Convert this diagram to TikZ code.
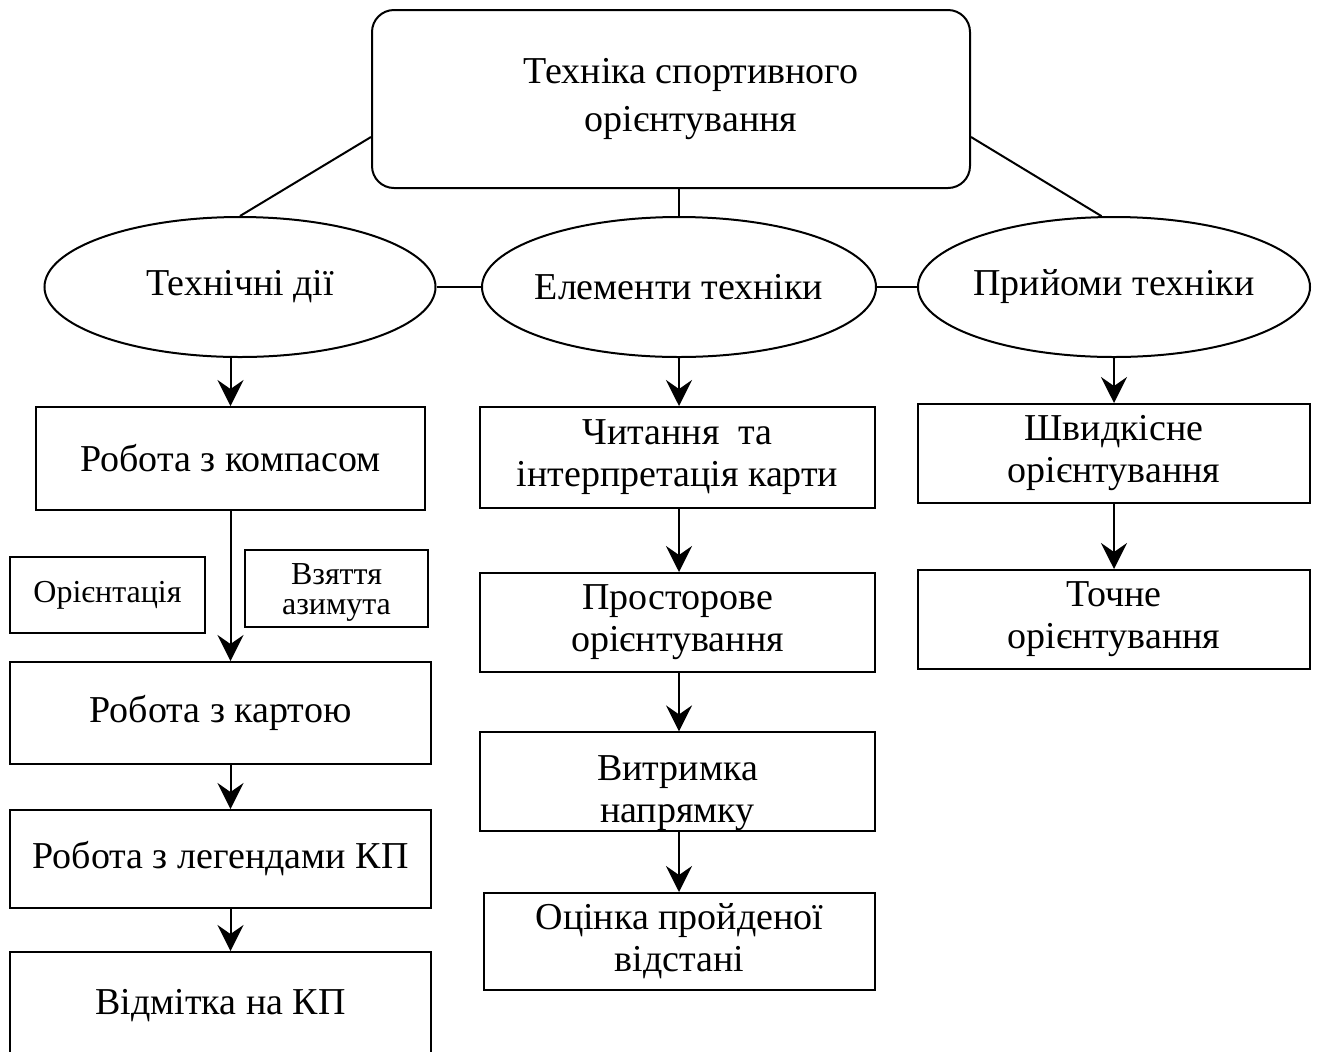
\documentclass[tikz,border=0pt]{standalone}
\usepackage{fontspec}
\setmainfont{Liberation Serif}
\usetikzlibrary{shapes.geometric,arrows.meta}

\tikzset{
  blok/.style={draw, line width=1pt, inner sep=0pt, align=center,
    font=\fontsize{19}{21}\selectfont},
  ovalblok/.style={blok, ellipse, minimum height=70pt},
  malyi/.style={draw, line width=1pt, inner sep=0pt, align=center,
    font=\fontsize{16}{15}\selectfont},
  zv/.style={line width=1pt},
  strilka/.style={zv, -{Stealth[length=13pt,width=13pt,inset=4.5pt]}},
}
% text of an oval takes no room, so the oval keeps its own size
\newcommand{\ovaltxt}[1]{\makebox[0pt]{#1}}

\begin{document}
\begin{tikzpicture}[x=0.5pt,y=-0.5pt]
\clip (0,0) rectangle (1317,1051);
\path[use as bounding box] (0,0) rectangle (1317,1051);
\fill[white] (0,0) rectangle (1317,1051);
% top and the three ovals
\node[blok, rounded corners=11pt, minimum width=299pt, minimum height=89pt,
  font=\fontsize{19}{24}\selectfont] (tekhnika) at (671,99)
  {\hspace*{20pt}Техніка спортивного\\\hspace*{20pt}орієнтування};
\node[ovalblok, minimum width=195.5pt] (dii) at (240,287) {\ovaltxt{Технічні дії}};
\node[ovalblok, minimum width=197pt] (elementy) at (679,287) {\ovaltxt{Елементи техніки}};
\node[ovalblok, minimum width=196pt] (pryiomy) at (1114,287) {\ovaltxt{Прийоми техніки}};
% left column
\node[blok, minimum width=194.5pt, minimum height=51.5pt] (kompas) at (230.5,458.5) {Робота з компасом};
\node[malyi, minimum width=97.5pt, minimum height=38pt] (orient) at (107.5,595) {Орієнтація};
\node[malyi, minimum width=91.5pt, minimum height=38.5pt] (azymut) at (336.5,588.5) {\rule{0pt}{14pt}Взяття\\азимута};
\node[blok, minimum width=210.5pt, minimum height=51pt] (karta) at (220.5,713) {Робота з картою};
\node[blok, minimum width=210.5pt, minimum height=49pt] (lehendy) at (220.5,859) {Робота з легендами КП};
\node[blok, minimum width=210.5pt, minimum height=54pt] (vidmitka) at (220.5,1006) {Відмітка на КП};
% middle column
\node[blok, minimum width=197.5pt, minimum height=50.5pt] (chytannia) at (677.5,457.5) {Читання\ \ та\\інтерпретація карти};
\node[blok, minimum width=197.5pt, minimum height=49.5pt] (prostir) at (677.5,622.5) {Просторове\\орієнтування};
\node[blok, minimum width=197.5pt, minimum height=48.5pt] (vytrymka) at (677.5,781.5) {\rule{0pt}{24pt}Витримка\\напрямку};
\node[blok, minimum width=195.5pt, minimum height=48.5pt] (otsinka) at (679.5,941.5) {Оцінка пройденої\\відстані};
% right column
\node[blok, minimum width=196pt, minimum height=49.5pt] (shvydke) at (1114,453.5) {Швидкісне\\орієнтування};
\node[blok, minimum width=196pt, minimum height=49.5pt] (tochne) at (1114,619.5) {Точне\\орієнтування};
% connectors
\draw[zv] ([yshift=-19pt]tekhnika.west) -- (dii.north);
\draw[zv] (tekhnika.south -| elementy.north) -- (elementy.north);
\draw[zv] ([yshift=-19pt]tekhnika.east) -- (pryiomy.100);
\draw[zv] (dii.east) -- (elementy.west);
\draw[zv] (elementy.east) -- (pryiomy.west);
\draw[strilka] (kompas.north |- dii.south) -- (kompas.north);
\draw[strilka] (kompas.south) -- (kompas.south |- karta.north);
\draw[strilka] (karta.south -| kompas.south) -- (lehendy.north -| kompas.south);
\draw[strilka] (lehendy.south -| kompas.south) -- (vidmitka.north -| kompas.south);
\draw[strilka] (elementy.south) -- (elementy.south |- chytannia.north);
\draw[strilka] (chytannia.south -| elementy.south) -- (prostir.north -| elementy.south);
\draw[strilka] (prostir.south -| elementy.south) -- (vytrymka.north -| elementy.south);
\draw[strilka] (vytrymka.south -| elementy.south) -- (otsinka.north -| elementy.south);
\draw[strilka] (pryiomy.south) -- (shvydke.north);
\draw[strilka] (shvydke.south) -- (tochne.north);
\end{tikzpicture}
\end{document}
